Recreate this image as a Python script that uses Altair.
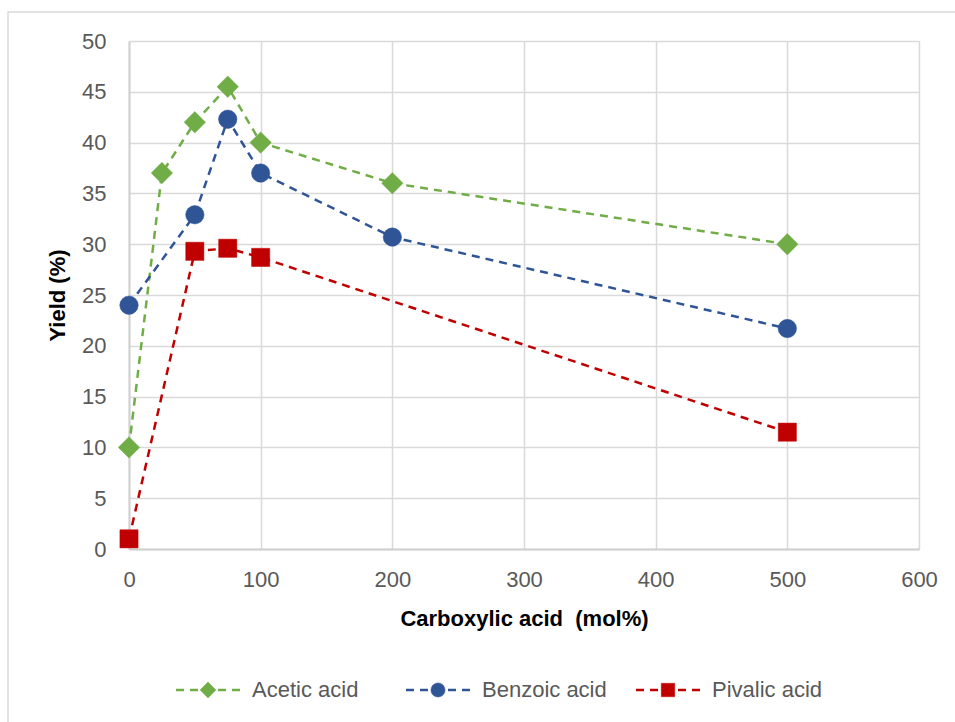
import altair as alt
import pandas as pd

# Yield of the reaction versus carboxylic acid loading, three additives
series_names = ["Acetic acid", "Benzoic acid", "Pivalic acid"]
series_colors = ["#70AD47", "#2F5597", "#C00000"]
marker_shapes = ["diamond", "circle", "square"]
marker_sizes = [460, 340, 330]
legend_marker_sizes = [250, 200, 180]

acetic_x = [0, 25, 50, 75, 100, 200, 500]
acetic_y = [10, 37, 42, 45.5, 40, 36, 30]

benzoic_x = [0, 50, 75, 100, 200, 500]
benzoic_y = [24, 32.9, 42.3, 37.0, 30.7, 21.7]

pivalic_x = [0, 50, 75, 100, 500]
pivalic_y = [1, 29.3, 29.6, 28.7, 11.5]

x_ticks = [0, 100, 200, 300, 400, 500, 600]
y_ticks = [0, 5, 10, 15, 20, 25, 30, 35, 40, 45, 50]

FONT = "Liberation Sans"
DASH = [8, 6]

rows = []
for name, xs, ys in zip(series_names,
                        [acetic_x, benzoic_x, pivalic_x],
                        [acetic_y, benzoic_y, pivalic_y]):
    for xv, yv in zip(xs, ys):
        rows.append({"series": name, "loading": xv, "yield": yv})
df = pd.DataFrame(rows)

x_enc = alt.X("loading:Q",
              scale=alt.Scale(domain=[0, 600], nice=False, zero=True),
              axis=alt.Axis(values=x_ticks, title="Carboxylic acid \u00a0(mol%)"))
y_enc = alt.Y("yield:Q",
              scale=alt.Scale(domain=[0, 50], nice=False),
              axis=alt.Axis(values=y_ticks, title="Yield (%)"))

base = alt.Chart(df)

# dashed connecting lines
lines = base.mark_line(strokeDash=DASH, strokeWidth=2.5).encode(
    x=x_enc, y=y_enc,
    detail="series:N",
    stroke=alt.Stroke("series:N",
                      scale=alt.Scale(domain=series_names, range=series_colors),
                      legend=None),
    order="loading:Q",
)

# one marker layer per series
markers = []
for name, color, shape, size in zip(series_names, series_colors, marker_shapes, marker_sizes):
    markers.append(
        base.transform_filter(alt.datum.series == name)
        .mark_point(shape=shape, filled=True, fill=color, stroke=color,
                    strokeWidth=0.5, size=size, opacity=1)
        .encode(x=x_enc, y=y_enc)
    )

# legend row under the plot: dashed sample line, marker and label for each series
legend_layers = []
legend_left, legend_step, legend_row = 79, 230, 649
for i, (name, color, shape, lsize) in enumerate(
        zip(series_names, series_colors, marker_shapes, legend_marker_sizes)):
    cx = legend_left + legend_step * i
    entry = alt.Chart(pd.DataFrame({"series": [name]}))
    legend_layers.append(
        entry.mark_rule(color=color, strokeWidth=2.5, strokeDash=DASH).encode(
            x=alt.value(cx - 32), x2=alt.value(cx + 32), y=alt.value(legend_row))
    )
    legend_layers.append(
        entry.mark_point(shape=shape, filled=True, fill=color, stroke=color,
                         strokeWidth=0.5, size=lsize, opacity=1).encode(
            x=alt.value(cx), y=alt.value(legend_row))
    )
    legend_layers.append(
        entry.mark_text(align="left", baseline="middle", font=FONT, fontSize=22,
                        color="#595959").encode(
            x=alt.value(cx + 44), y=alt.value(legend_row), text="series:N")
    )

# outer chart frame
frame = alt.Chart(pd.DataFrame({"f": [0]})).mark_rect(
    fillOpacity=0, stroke="#D9D9D9", strokeWidth=1.5
).encode(x=alt.value(-121), x2=alt.value(900), y=alt.value(-29), y2=alt.value(800))

chart = alt.layer(frame, lines, *markers, *legend_layers).properties(
    width=790, height=508,
    autosize=alt.AutoSizeParams(type="none"),
    padding={"left": 129, "top": 41, "right": 36, "bottom": 173},
    background="white",
).configure_view(stroke=None).configure_axis(
    grid=True, gridColor="#D9D9D9", gridWidth=1.5,
    domainColor="#D0D0D0", domainWidth=2,
    ticks=False, labelFont=FONT, labelFontSize=22, labelColor="#595959",
    labelFlush=False, titleFont=FONT, titleFontSize=22,
    titleFontWeight="bold", titleColor="#000000",
).configure_axisX(titlePadding=18, labelPadding=20).configure_axisY(
    titlePadding=12, labelPadding=23)

chart.save("out.html", embed_options={"renderer": "svg", "actions": False})
